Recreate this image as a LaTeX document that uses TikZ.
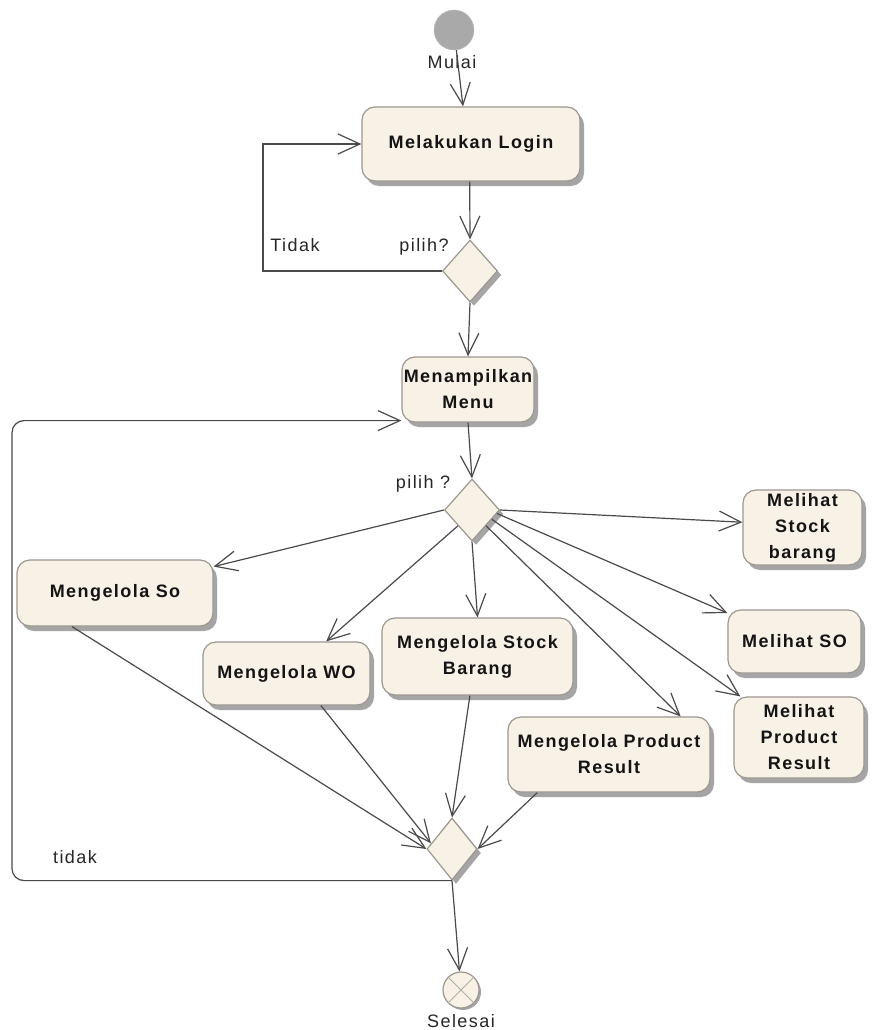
\documentclass[tikz,border=0pt]{standalone}
\usepackage{fontspec}
\setmainfont{Liberation Sans}[LetterSpace=8]
\usetikzlibrary{arrows.meta,shapes.geometric,shadows,calc}

\definecolor{actfill}{HTML}{F8F1E6}
\definecolor{actline}{HTML}{9C9890}
\definecolor{flow}{HTML}{4A4A4A}
\definecolor{shade}{HTML}{A5A5A5}
\definecolor{startgray}{HTML}{A9A9A9}

\tikzset{
  act/.style={draw=actline, line width=1.2pt, fill=actfill, rounded corners=13pt,
    align=center, inner sep=0pt, text=black!92,
    font=\bfseries\fontsize{18}{26}\selectfont,
    drop shadow={shadow xshift=4pt, shadow yshift=-5pt, fill=shade, opacity=1}},
  decision/.style={diamond, draw=actline, line width=1.2pt, fill=actfill,
    inner sep=0pt, minimum width=55pt, minimum height=62pt,
    drop shadow={shadow xshift=4pt, shadow yshift=-4pt, fill=shade, opacity=1}},
  flowarr/.style={draw=flow, line width=1.2pt, -{Straight Barb[length=22pt,width=20pt]}},
  lbl/.style={font=\fontsize{18}{22}\selectfont, text=black!85, inner sep=0pt},
}

\begin{document}
\begin{tikzpicture}[x=1pt, y=-1pt]
  \useasboundingbox[fill=white] (0,0) rectangle (872,1030);

  % initial and final states
  \node[circle, fill=startgray, draw=startgray!80, minimum size=40pt, inner sep=0pt] (start) at (454,30) {};
  \node[circle, fill=actfill, draw=actline, line width=1.2pt, minimum size=36pt, inner sep=0pt,
        drop shadow={shadow xshift=2pt, shadow yshift=-2pt, fill=shade, opacity=1}] (endc) at (461,990) {};
  \draw[actline!80, line width=1pt] (endc.45) -- (endc.225) (endc.135) -- (endc.315);

  % activities
  \node[act, minimum width=218pt, minimum height=74pt] (login) at (471,144) {Melakukan Login};
  \node[act, minimum width=132pt, minimum height=65pt] (menu) at (468,389.5) {Menampilkan\\Menu};
  \node[act, minimum width=196pt, minimum height=66pt] (so) at (115,593) {Mengelola So};
  \node[act, minimum width=167pt, minimum height=63pt] (wo) at (286.5,673.5) {Mengelola WO};
  \node[act, minimum width=191pt, minimum height=77pt] (sb) at (477.5,656.5) {Mengelola Stock\\Barang};
  \node[act, minimum width=202pt, minimum height=75pt] (pr) at (609,754.5) {Mengelola Product\\Result};
  \node[act, minimum width=119pt, minimum height=75pt] (msb) at (802.5,527.5) {Melihat\\Stock\\barang};
  \node[act, minimum width=133pt, minimum height=63pt] (mso) at (794.5,641.5) {Melihat SO};
  \node[act, minimum width=130pt, minimum height=81pt] (mpr) at (799,737.5) {Melihat\\Product\\Result};

  % decisions and merge
  \node[decision] (d1) at (470,271) {};
  \node[decision] (d2) at (472,510) {};
  \node[decision, minimum width=50pt] (d3) at (452,849) {};

  % labels
  \node[lbl] (mulai) at (452,62) {Mulai};
  \node[lbl] (q1) at (424,247) {pilih?};
  \node[lbl] (no1) at (295,245) {Tidak};
  \node[lbl] (q2) at (423,484) {pilih ?};
  \node[lbl] (no2) at (75,857) {tidak};
  \node[lbl] (selesai) at (461,1021) {Selesai};

  % loop corners
  \coordinate (loopA) at (263,200);
  \coordinate (loopB) at (12,650);

  % flows
  \draw[flowarr] (start) -- (login.102);
  \draw[flowarr] (login.-92) -- (d1.north);
  \draw[flowarr] (d1.west) -| (loopA) |- (login.west);
  \draw[flowarr] (d1.south) -- (menu.north);
  \draw[flowarr] (menu.south) -- (d2.north);

  \draw[flowarr] (d2.west) -- (so.15);
  \draw[flowarr] (d2.south west) -- (wo.39);
  \draw[flowarr] (d2.south) -- (sb.north);
  \draw[flowarr] (d2.south east) -- (pr.28);
  \draw[flowarr] (d2.-25) -- (mpr.145);
  \draw[flowarr] (d2.-8) -- (mso.157);
  \draw[flowarr] (d2.east) -- (msb.175);

  \draw[flowarr] (so.-142) -- (d3.west);
  \draw[flowarr] (wo.-43) -- (d3.165);
  \draw[flowarr] (sb.-101) -- (d3.north);
  \draw[flowarr] (pr.-152.5) -- (d3.east);

  \draw[flowarr] (d3.south) -- (endc);
  \draw[flowarr, rounded corners=12pt] (d3.south) -| (loopB) |- ([yshift=2pt]menu.south west);
\end{tikzpicture}
\end{document}
